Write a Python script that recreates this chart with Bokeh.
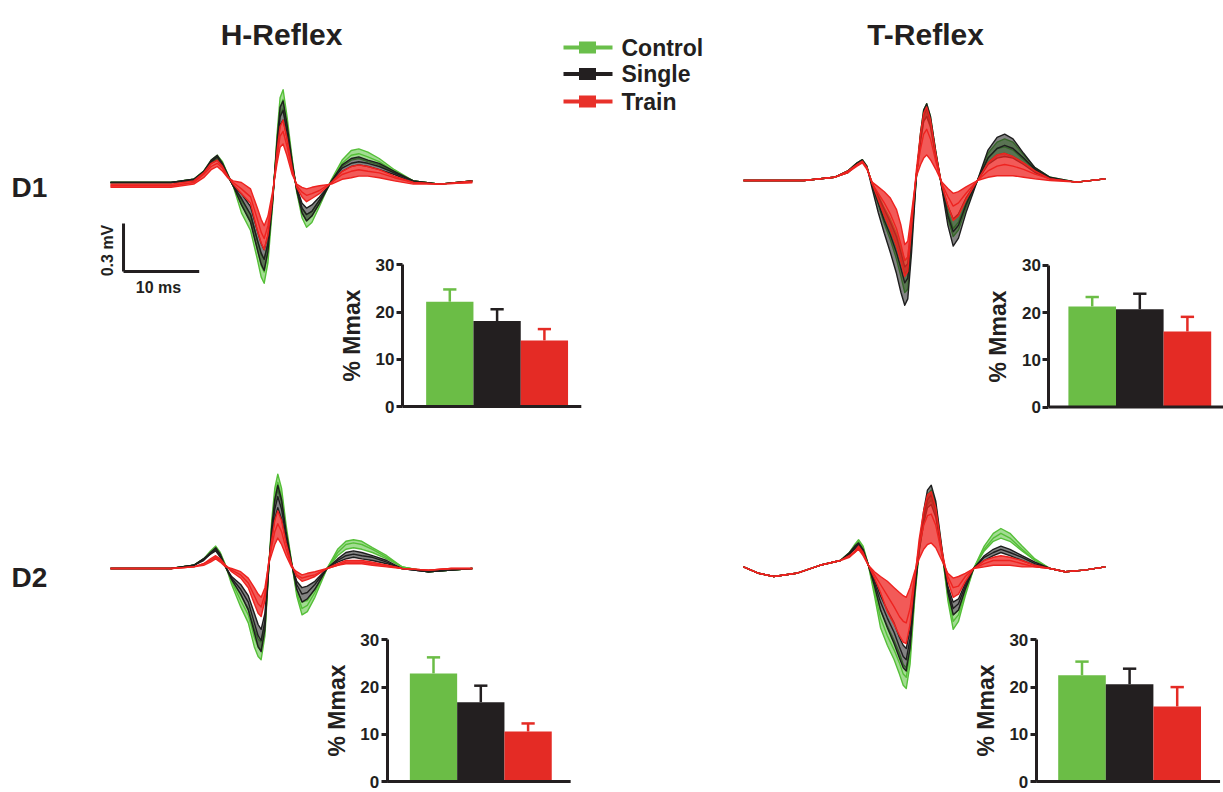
import math
from bokeh.plotting import figure
from bokeh.models import Range1d, LinearAxis, FixedTicker
from bokeh.core.properties import value
from bokeh.embed import file_html
from bokeh.resources import INLINE

# ---------------- data ----------------
CONDITIONS = ["Control", "Single", "Train"]
BAR_X = [0, 1, 2]
BAR_TICKS = [0, 10, 20, 30]

D1_H_MEAN = [22.2, 18.1, 14.0]
D1_H_ERR = [2.6, 2.5, 2.4]
D1_T_MEAN = [21.3, 20.7, 16.0]
D1_T_ERR = [2.0, 3.3, 3.1]
D2_H_MEAN = [22.9, 16.8, 10.6]
D2_H_ERR = [3.4, 3.5, 1.7]
D2_T_MEAN = [22.5, 20.6, 15.9]
D2_T_ERR = [2.9, 3.3, 4.1]

SCALE_MV = 0.3
SCALE_MS = 10

# EMG sweeps: time (ms) and amplitude (mV); large / mid / small sweep per condition
D1H_T = [0, 8, 11.0, 12.3, 13.3, 14.1, 14.8, 15.5, 16.2, 17.3,
         18.5, 19.4, 19.9, 20.3, 20.8, 21.4, 22.0, 22.4, 22.8, 23.3,
         24.0, 24.6, 25.3, 25.9, 26.6, 27.6, 29.2, 30.6, 31.8, 32.8,
         34.0, 35.5, 37.5, 40.0, 43.5, 47.8]
D1H_CONTROL = [
    [0.00, 0.00, 0.02, 0.07, 0.14, 0.17, 0.13, 0.05, -0.02, -0.19,
     -0.30, -0.48, -0.59, -0.63, -0.50, -0.15, 0.30, 0.53, 0.58, 0.42,
     0.15, -0.06, -0.22, -0.28, -0.25, -0.15, 0.02, 0.14, 0.20, 0.21,
     0.19, 0.15, 0.08, 0.01, -0.01, 0.01],
    [0.00, 0.00, 0.02, 0.07, 0.13, 0.16, 0.12, 0.05, -0.02, -0.14,
     -0.24, -0.42, -0.52, -0.56, -0.44, -0.13, 0.27, 0.47, 0.52, 0.37,
     0.13, -0.05, -0.19, -0.24, -0.21, -0.13, 0.01, 0.12, 0.17, 0.18,
     0.16, 0.13, 0.07, 0.01, -0.01, 0.01],
    [0.00, 0.00, 0.01, 0.06, 0.12, 0.15, 0.11, 0.04, -0.02, -0.11,
     -0.20, -0.36, -0.45, -0.48, -0.38, -0.11, 0.23, 0.42, 0.46, 0.33,
     0.11, -0.04, -0.16, -0.20, -0.18, -0.11, 0.01, 0.10, 0.14, 0.15,
     0.13, 0.11, 0.06, 0.01, -0.01, 0.01],
]
D1H_SINGLE = [
    [0.00, 0.00, 0.02, 0.07, 0.14, 0.17, 0.12, 0.05, -0.02, -0.14,
     -0.25, -0.42, -0.51, -0.55, -0.43, -0.13, 0.26, 0.47, 0.51, 0.37,
     0.13, -0.05, -0.19, -0.24, -0.21, -0.13, 0.01, 0.11, 0.15, 0.16,
     0.14, 0.12, 0.07, 0.01, -0.01, 0.01],
    [0.00, 0.00, 0.02, 0.06, 0.13, 0.16, 0.11, 0.04, -0.02, -0.10,
     -0.20, -0.36, -0.44, -0.48, -0.38, -0.11, 0.23, 0.41, 0.45, 0.32,
     0.11, -0.04, -0.16, -0.20, -0.18, -0.11, 0.01, 0.09, 0.12, 0.13,
     0.12, 0.10, 0.06, 0.01, -0.01, 0.01],
    [0.00, 0.00, 0.01, 0.06, 0.12, 0.14, 0.10, 0.04, -0.02, -0.07,
     -0.15, -0.30, -0.38, -0.42, -0.33, -0.10, 0.20, 0.36, 0.39, 0.28,
     0.09, -0.03, -0.13, -0.16, -0.14, -0.09, 0.00, 0.07, 0.10, 0.11,
     0.10, 0.08, 0.05, 0.00, -0.01, 0.01],
]
D1H_TRAIN = [
    [-0.01, -0.01, 0.01, 0.06, 0.12, 0.14, 0.10, 0.04, -0.01, -0.07,
     -0.13, -0.30, -0.38, -0.42, -0.33, -0.10, 0.20, 0.35, 0.39, 0.28,
     0.09, -0.03, -0.09, -0.12, -0.10, -0.07, 0.00, 0.07, 0.10, 0.11,
     0.10, 0.08, 0.04, 0.00, -0.01, 0.01],
    [-0.02, -0.02, 0.00, 0.05, 0.10, 0.12, 0.09, 0.03, 0.00, -0.04,
     -0.09, -0.23, -0.31, -0.35, -0.27, -0.08, 0.16, 0.29, 0.32, 0.23,
     0.07, -0.02, -0.06, -0.08, -0.07, -0.05, 0.00, 0.05, 0.07, 0.08,
     0.07, 0.06, 0.03, 0.00, -0.01, 0.00],
    [-0.03, -0.03, -0.01, 0.03, 0.08, 0.10, 0.07, 0.03, 0.01, 0.00,
     -0.04, -0.16, -0.23, -0.27, -0.21, -0.06, 0.12, 0.22, 0.24, 0.17,
     0.05, -0.01, -0.03, -0.04, -0.03, -0.02, -0.01, 0.02, 0.03, 0.04,
     0.04, 0.03, 0.01, -0.01, -0.01, 0.00],
]

D1T_T = [0, 8, 12, 13.8, 15.0, 15.7, 16.3, 17.0, 17.8, 18.6,
         19.4, 20.2, 20.8, 21.3, 21.7, 22.2, 22.8, 23.4, 23.8, 24.2,
         24.7, 25.4, 26.2, 27.0, 27.7, 28.4, 29.4, 30.9, 32.3, 33.5,
         34.5, 35.6, 37.0, 38.5, 40.5, 44.0, 47.8]
D1T_CONTROL = [
    [0.00, 0.00, 0.02, 0.06, 0.11, 0.13, 0.09, -0.03, -0.15, -0.27,
     -0.37, -0.49, -0.60, -0.70, -0.68, -0.40, 0.00, 0.30, 0.44, 0.48,
     0.40, 0.18, -0.04, -0.24, -0.35, -0.31, -0.17, 0.00, 0.17, 0.24,
     0.26, 0.24, 0.16, 0.08, 0.02, -0.01, 0.01],
    [0.00, 0.00, 0.02, 0.06, 0.10, 0.12, 0.08, -0.02, -0.12, -0.22,
     -0.31, -0.41, -0.50, -0.58, -0.56, -0.33, 0.01, 0.28, 0.41, 0.44,
     0.37, 0.16, -0.04, -0.20, -0.30, -0.26, -0.14, 0.00, 0.14, 0.20,
     0.21, 0.19, 0.13, 0.07, 0.01, -0.01, 0.01],
    [0.00, 0.00, 0.02, 0.05, 0.10, 0.12, 0.08, -0.02, -0.09, -0.17,
     -0.24, -0.33, -0.42, -0.50, -0.48, -0.28, 0.02, 0.25, 0.37, 0.40,
     0.33, 0.14, -0.03, -0.16, -0.24, -0.21, -0.11, 0.00, 0.11, 0.16,
     0.17, 0.15, 0.11, 0.06, 0.01, -0.01, 0.01],
]
D1T_SINGLE = [
    [0.00, 0.00, 0.02, 0.06, 0.11, 0.13, 0.09, -0.05, -0.20, -0.33,
     -0.45, -0.58, -0.70, -0.78, -0.74, -0.45, 0.00, 0.30, 0.44, 0.48,
     0.40, 0.18, -0.05, -0.28, -0.41, -0.36, -0.20, 0.00, 0.19, 0.27,
     0.29, 0.26, 0.17, 0.08, 0.02, -0.01, 0.01],
    [0.00, 0.00, 0.02, 0.06, 0.10, 0.12, 0.08, -0.03, -0.14, -0.25,
     -0.34, -0.45, -0.55, -0.64, -0.61, -0.36, 0.01, 0.28, 0.41, 0.45,
     0.38, 0.17, -0.04, -0.22, -0.32, -0.28, -0.15, 0.00, 0.14, 0.20,
     0.22, 0.20, 0.14, 0.07, 0.01, -0.01, 0.01],
    [0.00, 0.00, 0.02, 0.05, 0.10, 0.12, 0.08, -0.02, -0.10, -0.18,
     -0.26, -0.35, -0.45, -0.54, -0.52, -0.30, 0.02, 0.25, 0.37, 0.40,
     0.34, 0.15, -0.03, -0.16, -0.24, -0.21, -0.11, 0.00, 0.10, 0.14,
     0.15, 0.14, 0.10, 0.05, 0.01, -0.01, 0.01],
]
D1T_TRAIN = [
    [0.00, 0.00, 0.02, 0.06, 0.10, 0.12, 0.08, -0.02, -0.12, -0.22,
     -0.31, -0.41, -0.51, -0.60, -0.57, -0.30, 0.05, 0.30, 0.42, 0.46,
     0.38, 0.17, -0.03, -0.16, -0.25, -0.22, -0.12, 0.00, 0.11, 0.16,
     0.17, 0.15, 0.11, 0.06, 0.01, -0.01, 0.01],
    [0.00, 0.00, 0.02, 0.05, 0.10, 0.12, 0.08, -0.02, -0.08, -0.14,
     -0.21, -0.30, -0.40, -0.50, -0.48, -0.25, 0.03, 0.20, 0.29, 0.32,
     0.26, 0.12, -0.02, -0.10, -0.16, -0.14, -0.08, 0.00, 0.06, 0.09,
     0.10, 0.09, 0.07, 0.04, 0.01, -0.01, 0.01],
    [0.00, 0.00, 0.02, 0.05, 0.09, 0.11, 0.07, -0.01, -0.04, -0.07,
     -0.11, -0.18, -0.28, -0.40, -0.38, -0.20, 0.02, 0.10, 0.14, 0.16,
     0.13, 0.07, -0.01, -0.05, -0.08, -0.07, -0.04, 0.00, 0.02, 0.03,
     0.03, 0.03, 0.02, 0.01, 0.00, -0.01, 0.01],
]

D2H_T = [0, 8, 11.0, 12.3, 13.2, 13.9, 14.5, 15.2, 16.0, 17.2,
         18.2, 19.0, 19.5, 19.9, 20.4, 20.9, 21.3, 21.7, 22.1, 22.6,
         23.2, 23.9, 24.6, 25.3, 26.0, 27.0, 28.6, 30.0, 31.1, 32.1,
         33.2, 34.6, 36.5, 38.5, 42.0, 45.0, 47.8]
D2H_CONTROL = [
    [0.00, 0.00, 0.02, 0.06, 0.11, 0.14, 0.10, 0.02, -0.10, -0.24,
     -0.34, -0.49, -0.55, -0.57, -0.42, 0.00, 0.30, 0.50, 0.59, 0.50,
     0.27, 0.05, -0.17, -0.29, -0.27, -0.18, 0.00, 0.12, 0.17, 0.18,
     0.17, 0.13, 0.08, 0.01, -0.02, -0.01, 0.00],
    [0.00, 0.00, 0.02, 0.06, 0.10, 0.13, 0.09, 0.02, -0.08, -0.20,
     -0.29, -0.43, -0.49, -0.51, -0.38, 0.00, 0.27, 0.45, 0.54, 0.45,
     0.24, 0.04, -0.15, -0.25, -0.23, -0.15, 0.00, 0.10, 0.15, 0.16,
     0.15, 0.12, 0.07, 0.01, -0.02, -0.01, 0.00],
    [0.00, 0.00, 0.02, 0.06, 0.10, 0.12, 0.08, 0.01, -0.07, -0.17,
     -0.25, -0.38, -0.44, -0.46, -0.34, 0.00, 0.24, 0.41, 0.49, 0.41,
     0.22, 0.04, -0.13, -0.21, -0.20, -0.13, 0.00, 0.08, 0.12, 0.13,
     0.12, 0.10, 0.06, 0.01, -0.02, -0.01, 0.00],
]
D2H_SINGLE = [
    [0.00, 0.00, 0.02, 0.06, 0.10, 0.13, 0.09, 0.01, -0.07, -0.16,
     -0.26, -0.40, -0.49, -0.52, -0.38, 0.00, 0.26, 0.43, 0.52, 0.43,
     0.23, 0.04, -0.13, -0.21, -0.19, -0.13, 0.00, 0.06, 0.10, 0.11,
     0.10, 0.08, 0.05, 0.00, -0.02, -0.01, 0.00],
    [0.00, 0.00, 0.02, 0.06, 0.09, 0.12, 0.08, 0.01, -0.06, -0.13,
     -0.21, -0.34, -0.42, -0.45, -0.33, 0.01, 0.22, 0.37, 0.45, 0.37,
     0.20, 0.03, -0.10, -0.16, -0.15, -0.10, 0.00, 0.05, 0.08, 0.09,
     0.08, 0.07, 0.04, 0.00, -0.02, -0.01, 0.00],
    [0.00, 0.00, 0.02, 0.05, 0.09, 0.11, 0.07, 0.01, -0.05, -0.10,
     -0.17, -0.28, -0.35, -0.38, -0.28, 0.02, 0.19, 0.31, 0.38, 0.31,
     0.17, 0.03, -0.08, -0.12, -0.11, -0.08, 0.00, 0.04, 0.06, 0.07,
     0.06, 0.05, 0.03, 0.00, -0.02, -0.01, 0.00],
]
D2H_TRAIN = [
    [0.00, 0.00, 0.01, 0.03, 0.06, 0.08, 0.06, 0.02, -0.02, -0.06,
     -0.12, -0.22, -0.28, -0.30, -0.20, 0.04, 0.18, 0.30, 0.36, 0.30,
     0.16, 0.03, -0.05, -0.08, -0.07, -0.05, 0.00, 0.03, 0.05, 0.05,
     0.05, 0.04, 0.02, 0.00, -0.01, 0.00, 0.00],
    [0.00, 0.00, 0.01, 0.03, 0.05, 0.07, 0.05, 0.02, -0.01, -0.04,
     -0.09, -0.17, -0.22, -0.24, -0.16, 0.04, 0.14, 0.23, 0.28, 0.23,
     0.12, 0.02, -0.04, -0.06, -0.05, -0.04, 0.00, 0.02, 0.04, 0.04,
     0.04, 0.03, 0.02, 0.00, -0.01, 0.00, 0.00],
    [0.00, 0.00, 0.01, 0.02, 0.04, 0.06, 0.04, 0.01, 0.00, -0.02,
     -0.06, -0.12, -0.16, -0.18, -0.12, 0.03, 0.09, 0.15, 0.19, 0.15,
     0.08, 0.01, -0.02, -0.04, -0.03, -0.02, 0.00, 0.02, 0.03, 0.03,
     0.03, 0.02, 0.01, 0.00, -0.01, 0.00, 0.00],
]

D2T_T = [0, 2, 4, 7, 10.1, 12.8, 14.0, 14.7, 15.2, 15.8,
         16.5, 17.3, 18.1, 19.0, 19.9, 20.6, 21.1, 21.5, 22.0, 22.6,
         23.2, 23.8, 24.3, 24.8, 25.4, 26.2, 27.0, 27.7, 28.4, 29.3,
         30.4, 31.8, 33.0, 34.0, 35.2, 36.8, 38.5, 40.5, 42.5, 45.0,
         47.8]
D2T_CONTROL = [
    [0.01, -0.03, -0.05, -0.03, 0.02, 0.05, 0.10, 0.15, 0.18, 0.14,
     0.02, -0.17, -0.37, -0.48, -0.57, -0.66, -0.73, -0.75, -0.60, -0.20,
     0.12, 0.34, 0.46, 0.49, 0.40, 0.12, -0.20, -0.38, -0.33, -0.17,
     0.00, 0.14, 0.22, 0.25, 0.22, 0.14, 0.06, 0.00, -0.02, -0.01,
     0.01],
    [0.01, -0.03, -0.05, -0.03, 0.02, 0.05, 0.10, 0.14, 0.17, 0.13,
     0.02, -0.14, -0.31, -0.42, -0.51, -0.59, -0.66, -0.68, -0.54, -0.18,
     0.11, 0.32, 0.43, 0.46, 0.37, 0.11, -0.17, -0.33, -0.29, -0.15,
     0.00, 0.12, 0.19, 0.22, 0.19, 0.12, 0.05, 0.00, -0.02, -0.01,
     0.01],
    [0.01, -0.03, -0.05, -0.03, 0.02, 0.05, 0.09, 0.13, 0.16, 0.12,
     0.02, -0.11, -0.26, -0.36, -0.45, -0.53, -0.60, -0.62, -0.49, -0.16,
     0.10, 0.29, 0.40, 0.43, 0.35, 0.10, -0.15, -0.29, -0.26, -0.13,
     0.00, 0.11, 0.17, 0.19, 0.17, 0.11, 0.05, 0.00, -0.02, -0.01,
     0.01],
]
D2T_SINGLE = [
    [0.01, -0.03, -0.05, -0.03, 0.02, 0.05, 0.10, 0.14, 0.16, 0.12,
     0.02, -0.11, -0.26, -0.37, -0.47, -0.56, -0.62, -0.64, -0.50, -0.16,
     0.13, 0.36, 0.49, 0.52, 0.42, 0.13, -0.15, -0.29, -0.26, -0.13,
     0.00, 0.08, 0.12, 0.14, 0.12, 0.08, 0.04, 0.00, -0.02, -0.01,
     0.01],
    [0.01, -0.03, -0.05, -0.03, 0.02, 0.05, 0.09, 0.13, 0.15, 0.11,
     0.02, -0.09, -0.21, -0.31, -0.40, -0.49, -0.55, -0.57, -0.44, -0.14,
     0.12, 0.32, 0.43, 0.46, 0.37, 0.11, -0.13, -0.25, -0.22, -0.11,
     0.00, 0.07, 0.10, 0.12, 0.10, 0.07, 0.03, 0.00, -0.02, -0.01,
     0.01],
    [0.01, -0.03, -0.05, -0.03, 0.02, 0.05, 0.09, 0.12, 0.14, 0.10,
     0.02, -0.07, -0.17, -0.26, -0.34, -0.43, -0.48, -0.50, -0.38, -0.12,
     0.11, 0.28, 0.38, 0.40, 0.32, 0.10, -0.11, -0.21, -0.19, -0.09,
     0.00, 0.05, 0.08, 0.10, 0.08, 0.05, 0.02, 0.00, -0.02, -0.01,
     0.01],
]
D2T_TRAIN = [
    [0.01, -0.03, -0.05, -0.03, 0.02, 0.05, 0.08, 0.11, 0.14, 0.10,
     0.02, -0.06, -0.15, -0.27, -0.35, -0.42, -0.46, -0.47, -0.35, -0.08,
     0.18, 0.36, 0.46, 0.48, 0.38, 0.12, -0.08, -0.18, -0.16, -0.08,
     0.00, 0.05, 0.07, 0.08, 0.07, 0.05, 0.02, 0.00, -0.02, -0.01,
     0.01],
    [0.01, -0.03, -0.05, -0.03, 0.02, 0.05, 0.08, 0.10, 0.13, 0.09,
     0.02, -0.04, -0.10, -0.17, -0.24, -0.30, -0.33, -0.34, -0.25, -0.05,
     0.14, 0.27, 0.33, 0.34, 0.27, 0.09, -0.05, -0.12, -0.11, -0.05,
     0.00, 0.03, 0.05, 0.05, 0.05, 0.03, 0.01, 0.00, -0.02, -0.01,
     0.01],
    [0.01, -0.03, -0.05, -0.03, 0.02, 0.05, 0.07, 0.10, 0.12, 0.08,
     0.02, -0.02, -0.05, -0.08, -0.12, -0.15, -0.17, -0.18, -0.12, -0.02,
     0.06, 0.12, 0.15, 0.16, 0.13, 0.05, -0.03, -0.06, -0.05, -0.03,
     0.00, 0.01, 0.02, 0.02, 0.02, 0.01, 0.01, 0.00, -0.02, -0.01,
     0.01],
]

# ---------------- styling / layout ----------------
FONT = "Liberation Sans"
TXT = "#231f20"
BAR_COLORS = ["#6bbd46", "#231f20", "#e42b25"]
TRACE_COLORS = ["#55bf38", "#1e1e1e", "#ee2320"]
TRACE_FILL_ALPHA = [0.55, 0.55, 0.75]

W, H = 1223, 792
OFF = 0  # layout coordinates below are page pixels

p = figure(width=W, height=H, output_backend="svg", toolbar_location=None,
           x_axis_type=None, y_axis_type=None,
           x_range=Range1d(OFF, OFF + W), y_range=Range1d(OFF + H, OFF),
           min_border=0)
p.outline_line_color = None
p.background_fill_color = "white"
p.border_fill_color = "white"

extra_x, extra_y = {}, {}


def panel(name, x_px, x_val, sx, y_px, y_val, sy):
    xs = x_val - (x_px - OFF) / sx
    extra_x[name] = Range1d(xs, xs + W / sx)
    ys = y_val - (OFF + H - y_px) / sy
    extra_y[name] = Range1d(ys, ys + H / sy)


PX_PER_MS = 7.57
PX_PER_MV = 160
TRACE_PANELS = [
    ("d1h", 110, 182, D1H_T, [D1H_CONTROL, D1H_SINGLE, D1H_TRAIN]),
    ("d1t", 743, 180, D1T_T, [D1T_CONTROL, D1T_SINGLE, D1T_TRAIN]),
    ("d2h", 110, 568, D2H_T, [D2H_CONTROL, D2H_SINGLE, D2H_TRAIN]),
    ("d2t", 743, 568, D2T_T, [D2T_CONTROL, D2T_SINGLE, D2T_TRAIN]),
]
for name, x0, yb, T, groups in TRACE_PANELS:
    panel(name, x0, 0.0, PX_PER_MS, yb, 0.0, PX_PER_MV)

PX_PER_PCT = 4.72
BAR_PANELS = [
    # name, x px of bar 0 centre, px per bar, y-axis position (bar units), x-axis end, y px of 0
    ("b1h", 449.3, 47.3, -1.0, 2.78, 406, D1_H_MEAN, D1_H_ERR),
    ("b1t", 1091.7, 47.6, -0.91, 2.9, 406.5, D1_T_MEAN, D1_T_ERR),
    ("b2h", 433.0, 47.3, -0.98, 2.9, 781, D2_H_MEAN, D2_H_ERR),
    ("b2t", 1081.5, 47.6, -0.96, 2.9, 781, D2_T_MEAN, D2_T_ERR),
]
for name, cx, bw, axpos, xend, y0, mean, err in BAR_PANELS:
    panel(name, cx, 0.0, bw, y0, 0.0, PX_PER_PCT)

p.extra_x_ranges = extra_x
p.extra_y_ranges = extra_y

# ---------------- traces ----------------
for name, x0, yb, T, groups in TRACE_PANELS:
    for color, alpha, sweeps in zip(TRACE_COLORS, TRACE_FILL_ALPHA, groups):
        for s in sweeps:
            assert len(s) == len(T), (name, len(s), len(T))
        p.varea(x=T, y1=sweeps[0], y2=sweeps[2], fill_color=color, fill_alpha=alpha,
                x_range_name=name, y_range_name=name)
        p.multi_line(xs=[T] * len(sweeps), ys=sweeps, line_color=color, line_width=1.4,
                     line_join="round", x_range_name=name, y_range_name=name)

# scale bar (in the D1 H-reflex panel units)
SB_T, SB_V = 1.72, -0.556
p.segment(x0=[SB_T, SB_T], y0=[SB_V, SB_V], x1=[SB_T, SB_T + SCALE_MS], y1=[SB_V + SCALE_MV, SB_V],
          line_color=TXT, line_width=3, x_range_name="d1h", y_range_name="d1h")
p.text(x=[106.5], y=[250], text=[f"{SCALE_MV} mV"], angle=math.pi / 2,
       text_font=value(FONT), text_font_style="bold", text_font_size="16px",
       text_align="center", text_baseline="middle", text_color=TXT)
p.text(x=[158], y=[287], text=[f"{SCALE_MS} ms"],
       text_font=value(FONT), text_font_style="bold", text_font_size="16px",
       text_align="center", text_baseline="middle", text_color=TXT)

# ---------------- bars ----------------
for name, cx, bw, axpos, xend, y0, mean, err in BAR_PANELS:
    tops = [m + e for m, e in zip(mean, err)]
    p.segment(x0=BAR_X, y0=mean, x1=BAR_X, y1=tops, line_color=BAR_COLORS, line_width=2.5,
              x_range_name=name, y_range_name=name)
    p.segment(x0=[x - 0.14 for x in BAR_X], y0=tops, x1=[x + 0.14 for x in BAR_X], y1=tops,
              line_color=BAR_COLORS, line_width=2.5, x_range_name=name, y_range_name=name)
    p.vbar(x=BAR_X, top=mean, bottom=0, width=1.0, fill_color=BAR_COLORS, line_color=None,
           x_range_name=name, y_range_name=name)
    p.segment(x0=[axpos], y0=[0], x1=[xend], y1=[0], line_color=TXT, line_width=3,
              x_range_name=name, y_range_name=name)
    ax = LinearAxis(x_range_name=name, y_range_name=name, fixed_location=axpos,
                    bounds=(BAR_TICKS[0], BAR_TICKS[-1]), ticker=FixedTicker(ticks=BAR_TICKS),
                    axis_label="% Mmax")
    ax.minor_tick_line_color = None
    ax.major_tick_in = 0
    ax.major_tick_out = 6
    ax.axis_line_width = 3
    ax.major_tick_line_width = 3
    ax.axis_line_color = TXT
    ax.major_tick_line_color = TXT
    ax.major_label_text_font = FONT
    ax.major_label_text_font_style = "bold"
    ax.major_label_text_font_size = "17px"
    ax.major_label_text_color = TXT
    ax.major_label_standoff = 2
    ax.axis_label_text_font = FONT
    ax.axis_label_text_font_style = "bold"
    ax.axis_label_text_font_size = "23px"
    ax.axis_label_text_color = TXT
    ax.axis_label_standoff = 8
    p.add_layout(ax, "left")

# ---------------- titles and row labels ----------------
p.text(x=[281, 925], y=[34, 34], text=["H-Reflex", "T-Reflex"],
       text_font=value(FONT), text_font_style="bold", text_font_size="30px",
       text_align="center", text_baseline="alphabetic", text_color=TXT)
p.text(x=[11, 11], y=[187, 577], text=["D1", "D2"],
       text_font=value(FONT), text_font_style="bold", text_font_size="28px",
       text_align="left", text_baseline="alphabetic", text_color=TXT)

# ---------------- legend ----------------
LEG_Y = [47, 73.5, 101]
LEG_COLORS = ["#6abf4b", "#231f20", "#e8312a"]
p.segment(x0=[563] * 3, y0=LEG_Y, x1=[612] * 3, y1=LEG_Y, line_color=LEG_COLORS, line_width=4)
p.rect(x=[587] * 3, y=LEG_Y, width=17, height=12, width_units="screen", height_units="screen",
       fill_color=LEG_COLORS, line_color=None)
p.text(x=[621] * 3, y=LEG_Y, text=CONDITIONS,
       text_font=value(FONT), text_font_style="bold", text_font_size="23px",
       text_align="left", text_baseline="middle", text_color=TXT)

open("out.html", "w").write(file_html(p, INLINE))
